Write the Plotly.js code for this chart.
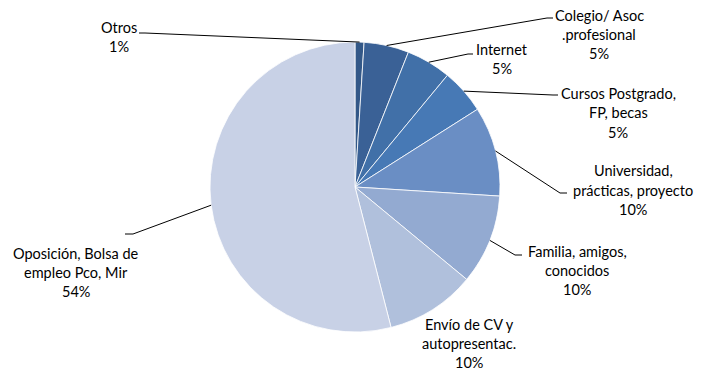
<!DOCTYPE html>
<html><head><meta charset="utf-8">
<script src="https://cdn.plot.ly/plotly-3.0.1.min.js"></script>
<style>html,body{margin:0;padding:0;background:#fff}</style>
</head><body><div id="chart" style="width:713px;height:371px"></div>
<script>
// ---- data ----
const categories = ["Otros", "Colegio/ Asoc|.profesional", "Internet", "Cursos Postgrado,|FP, becas",
  "Universidad,|prácticas, proyecto", "Familia, amigos,|conocidos", "Envío de CV y|autopresentac.",
  "Oposición, Bolsa de|empleo Pco, Mir"];
const values = [1, 5, 5, 5, 10, 10, 10, 54];
const colors = ["#335888", "#3a6196", "#4170a8", "#4779b5", "#6a8ec4", "#93aad1", "#b0c0dc", "#c8d1e6"];

// ---- layout constants (pixels) ----
const W = 713, H = 371, CX = 355, CY = 187, R = 145;
const labelCenter = [[119, 37], [599, 35], [502, 59], [618, 113], [633, 190], [577, 270], [469, 343], [76, 272]];
const leader = [[145, 33, 139, 33], [547, 18, 553, 18], [468, 54, 473, 54], [553, 95, 558, 95],
  [560, 193, 567, 193], [515, 255, 522, 255], null, [133, 234, 125, 234]];
const LH = 19;

const px = x => x / W, py = y => 1 - y / H;
const total = values.reduce((a, b) => a + b, 0);

const annotations = [];
const shapes = [];
let cum = 0;
values.forEach((v, i) => {
  const mid = (cum + v / 2) / total * 2 * Math.PI;
  cum += v;
  const lines = categories[i].split("|").concat([Math.round(v / total * 100) + "%"]);
  const [cx, cy] = labelCenter[i];
  const y0 = cy - (lines.length - 1) * LH / 2;
  lines.forEach((t, k) => annotations.push({
    text: t, x: px(cx), y: py(y0 + k * LH), xref: "paper", yref: "paper",
    xanchor: "center", yanchor: "middle", showarrow: false,
    font: {family: "Lato, 'Open Sans', sans-serif", size: 14.5, color: "#000"}
  }));
  if (leader[i]) {
    const ex = CX + R * Math.sin(mid), ey = CY - R * Math.cos(mid);
    const [bx, by, tx, ty] = leader[i];
    shapes.push({type: "path", xref: "paper", yref: "paper",
      path: `M${px(ex)},${py(ey)} L${px(bx)},${py(by)} L${px(tx)},${py(ty)}`,
      line: {color: "#000", width: 1}});
  }
});

const trace = {
  type: "pie", values: values, labels: categories.map(c => c.replace("|", " ")),
  sort: false, direction: "clockwise", rotation: 0,
  marker: {colors: colors, line: {color: "#ffffff", width: 0.8}},
  textinfo: "none", hoverinfo: "label+percent",
  domain: {x: [px(CX - R), px(CX + R)], y: [py(CY + R), py(CY - R)]}
};

Plotly.newPlot("chart", [trace], {
  width: W, height: H, margin: {l: 0, r: 0, t: 0, b: 0},
  paper_bgcolor: "#fff", showlegend: false,
  annotations: annotations, shapes: shapes
}, {displayModeBar: false, staticPlot: true});
</script></body></html>
